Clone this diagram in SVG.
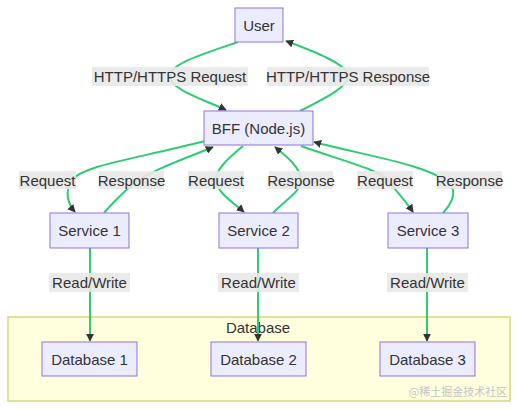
<svg xmlns="http://www.w3.org/2000/svg" width="518" height="409" viewBox="0 0 518 409">
<style>
.node rect{fill:#ECECFF;stroke:#9370DB;stroke-width:1}
text{font-family:"Liberation Sans","DejaVu Sans",sans-serif;font-size:15px;fill:#333;text-anchor:middle;dominant-baseline:central}
.edge{fill:none;stroke:#2ecc71;stroke-width:2}
.lbl rect{fill:#e8e8e8;opacity:0.9}
</style>
<defs>
<marker id="arr" viewBox="0 0 10 10" refX="9" refY="5" markerWidth="8" markerHeight="8" markerUnits="userSpaceOnUse" orient="auto">
<path d="M0,0 L10,5 L0,10 z" fill="#333"/>
</marker>
</defs>
<rect x="8" y="317" width="502" height="84" fill="#ffffde" stroke="#d8d87a" stroke-width="1.5"/>
<text x="258" y="327">Database</text>
<text x="458" y="391" style="font-size:11px;fill:#c4c4c4;font-family:'Noto Sans CJK SC',sans-serif">@稀土掘金技术社区</text>
<g id="connectors">
<path class="edge" marker-end="url(#arr)" d="M238,42 C200,55 170,64 170,76 C170,90 205,100 226,110"/>
<path class="edge" marker-end="url(#arr)" d="M300,111 C330,96 348,86 348,76 C348,64 310,50 286,41"/>
<path class="edge" marker-end="url(#arr)" d="M205,141 C130,160 82,166 72,180 C64,192 68,204 75,212"/>
<path class="edge" marker-end="url(#arr)" d="M104,213 C115,200 124,192 132,185 C150,170 190,157 213,147"/>
<path class="edge" marker-end="url(#arr)" d="M243,146 C226,160 216,170 216,180 C216,192 235,204 244,212"/>
<path class="edge" marker-end="url(#arr)" d="M273,213 C285,200 301,192 301,180 C301,168 286,156 275,147"/>
<path class="edge" marker-end="url(#arr)" d="M301,146 C340,160 380,170 388,180 C395,190 405,200 413,212"/>
<path class="edge" marker-end="url(#arr)" d="M443,213 C452,203 456,193 451,185 C432,165 362,155 314,142"/>
<path class="edge" marker-end="url(#arr)" d="M90,248 L90,341"/>
<path class="edge" marker-end="url(#arr)" d="M258,248 L258,341"/>
<path class="edge" marker-end="url(#arr)" d="M427,248 L427,341"/>
<g class="lbl">
<rect x="92" y="67" width="156" height="19"/><text x="170" y="76.5">HTTP/HTTPS Request</text>
<rect x="267" y="67" width="162" height="19"/><text x="348" y="76.5">HTTP/HTTPS Response</text>
<rect x="19" y="171" width="57" height="18"/><text x="47.5" y="180">Request</text>
<rect x="99" y="171" width="65" height="18"/><text x="131.5" y="180">Response</text>
<rect x="188" y="171" width="56" height="18"/><text x="216" y="180">Request</text>
<rect x="269" y="171" width="64" height="18"/><text x="301" y="180">Response</text>
<rect x="357" y="171" width="56" height="18"/><text x="385" y="180">Request</text>
<rect x="437" y="171" width="65" height="18"/><text x="469.5" y="180">Response</text>
<rect x="49" y="273" width="81" height="19"/><text x="89.5" y="282.5">Read/Write</text>
<rect x="218" y="273" width="81" height="19"/><text x="258.5" y="282.5">Read/Write</text>
<rect x="387" y="273" width="81" height="19"/><text x="427.5" y="282.5">Read/Write</text>
</g>
</g>
<g id="user" class="node"><rect x="235" y="8" width="48" height="34"/><text x="259" y="25">User</text></g>
<g id="bff" class="node"><rect x="204" y="111" width="109" height="34"/><text x="258.5" y="128">BFF (Node.js)</text></g>
<g id="service1" class="node"><rect x="50" y="213" width="79" height="35"/><text x="89.5" y="230.5">Service 1</text></g>
<g id="service2" class="node"><rect x="219" y="213" width="79" height="35"/><text x="258.5" y="230.5">Service 2</text></g>
<g id="service3" class="node"><rect x="388" y="213" width="80" height="35"/><text x="428" y="230.5">Service 3</text></g>
<g id="db1" class="node"><rect x="42" y="342" width="95" height="34"/><text x="89.5" y="359">Database 1</text></g>
<g id="db2" class="node"><rect x="211" y="342" width="95" height="34"/><text x="258.5" y="359">Database 2</text></g>
<g id="db3" class="node"><rect x="380" y="342" width="95" height="34"/><text x="427.5" y="359">Database 3</text></g>
</svg>
